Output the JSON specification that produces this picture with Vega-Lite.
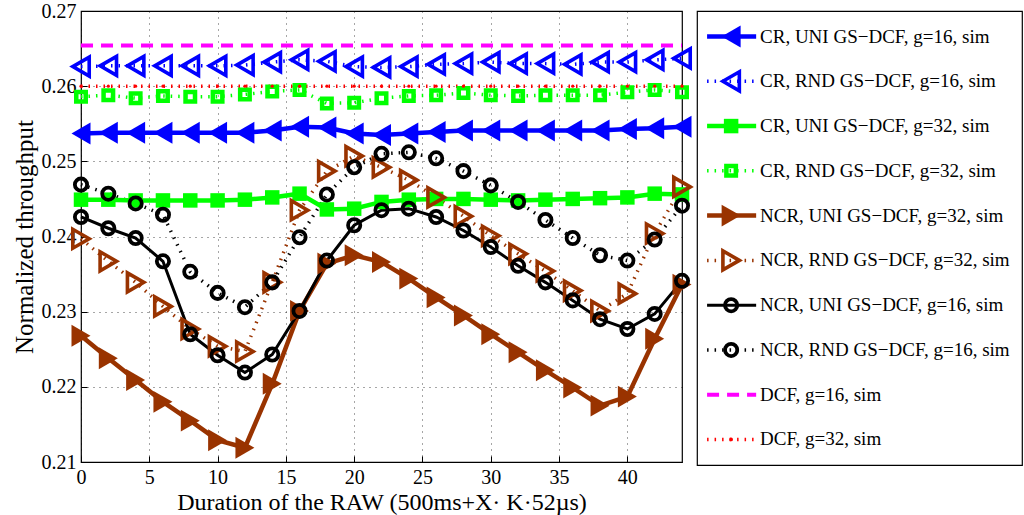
{
  "$schema": "https://vega.github.io/schema/vega-lite/v6.json",
  "padding": {"left": 11, "top": 0, "right": 0, "bottom": 0},
  "bounds": "flush",
  "spacing": 15,
  "config": {
    "font": "Liberation Serif",
    "view": {"stroke": "#000000", "strokeWidth": 1.2},
    "axis": {"labelFont": "Liberation Serif", "titleFont": "Liberation Serif", "labelColor": "#000", "titleColor": "#000", "titleFontWeight": "normal"}
  },
  "datasets": {
    "wide": [
      {"x": 0, "CR, UNI GS−DCF, g=16, sim": 0.2537, "CR, RND GS−DCF, g=16, sim": 0.2626, "CR, UNI GS−DCF, g=32, sim": 0.2449, "CR, RND GS−DCF, g=32, sim": 0.2586, "NCR, UNI GS−DCF, g=32, sim": 0.2268, "NCR, RND GS−DCF, g=32, sim": 0.2397, "NCR, UNI GS−DCF, g=16, sim": 0.2426, "NCR, RND GS−DCF, g=16, sim": 0.2469, "DCF, g=16, sim": 0.2654, "DCF, g=32, sim": 0.2600},
      {"x": 2, "CR, UNI GS−DCF, g=16, sim": 0.2538, "CR, RND GS−DCF, g=16, sim": 0.2627, "CR, UNI GS−DCF, g=32, sim": 0.2449, "CR, RND GS−DCF, g=32, sim": 0.2588, "NCR, UNI GS−DCF, g=32, sim": 0.2238, "NCR, RND GS−DCF, g=32, sim": 0.2367, "NCR, UNI GS−DCF, g=16, sim": 0.2411, "NCR, RND GS−DCF, g=16, sim": 0.2457, "DCF, g=16, sim": 0.2654, "DCF, g=32, sim": 0.2600},
      {"x": 4, "CR, UNI GS−DCF, g=16, sim": 0.2538, "CR, RND GS−DCF, g=16, sim": 0.2627, "CR, UNI GS−DCF, g=32, sim": 0.2448, "CR, RND GS−DCF, g=32, sim": 0.2584, "NCR, UNI GS−DCF, g=32, sim": 0.2209, "NCR, RND GS−DCF, g=32, sim": 0.2339, "NCR, UNI GS−DCF, g=16, sim": 0.2398, "NCR, RND GS−DCF, g=16, sim": 0.2444, "DCF, g=16, sim": 0.2654, "DCF, g=32, sim": 0.2600},
      {"x": 6, "CR, UNI GS−DCF, g=16, sim": 0.2538, "CR, RND GS−DCF, g=16, sim": 0.2627, "CR, UNI GS−DCF, g=32, sim": 0.2448, "CR, RND GS−DCF, g=32, sim": 0.2587, "NCR, UNI GS−DCF, g=32, sim": 0.2180, "NCR, RND GS−DCF, g=32, sim": 0.2307, "NCR, UNI GS−DCF, g=16, sim": 0.2367, "NCR, RND GS−DCF, g=16, sim": 0.2429, "DCF, g=16, sim": 0.2654, "DCF, g=32, sim": 0.2600},
      {"x": 8, "CR, UNI GS−DCF, g=16, sim": 0.2538, "CR, RND GS−DCF, g=16, sim": 0.2627, "CR, UNI GS−DCF, g=32, sim": 0.2448, "CR, RND GS−DCF, g=32, sim": 0.2586, "NCR, UNI GS−DCF, g=32, sim": 0.2155, "NCR, RND GS−DCF, g=32, sim": 0.2277, "NCR, UNI GS−DCF, g=16, sim": 0.2270, "NCR, RND GS−DCF, g=16, sim": 0.2353, "DCF, g=16, sim": 0.2654, "DCF, g=32, sim": 0.2600},
      {"x": 10, "CR, UNI GS−DCF, g=16, sim": 0.2538, "CR, RND GS−DCF, g=16, sim": 0.2627, "CR, UNI GS−DCF, g=32, sim": 0.2448, "CR, RND GS−DCF, g=32, sim": 0.2586, "NCR, UNI GS−DCF, g=32, sim": 0.2129, "NCR, RND GS−DCF, g=32, sim": 0.2254, "NCR, UNI GS−DCF, g=16, sim": 0.2242, "NCR, RND GS−DCF, g=16, sim": 0.2325, "DCF, g=16, sim": 0.2654, "DCF, g=32, sim": 0.2600},
      {"x": 12, "CR, UNI GS−DCF, g=16, sim": 0.2538, "CR, RND GS−DCF, g=16, sim": 0.2628, "CR, UNI GS−DCF, g=32, sim": 0.2449, "CR, RND GS−DCF, g=32, sim": 0.2589, "NCR, UNI GS−DCF, g=32, sim": 0.2119, "NCR, RND GS−DCF, g=32, sim": 0.2247, "NCR, UNI GS−DCF, g=16, sim": 0.2219, "NCR, RND GS−DCF, g=16, sim": 0.2306, "DCF, g=16, sim": 0.2654, "DCF, g=32, sim": 0.2600},
      {"x": 14, "CR, UNI GS−DCF, g=16, sim": 0.2541, "CR, RND GS−DCF, g=16, sim": 0.2632, "CR, UNI GS−DCF, g=32, sim": 0.2452, "CR, RND GS−DCF, g=32, sim": 0.2593, "NCR, UNI GS−DCF, g=32, sim": 0.2204, "NCR, RND GS−DCF, g=32, sim": 0.2339, "NCR, UNI GS−DCF, g=16, sim": 0.2243, "NCR, RND GS−DCF, g=16, sim": 0.2339, "DCF, g=16, sim": 0.2654, "DCF, g=32, sim": 0.2600},
      {"x": 16, "CR, UNI GS−DCF, g=16, sim": 0.2546, "CR, RND GS−DCF, g=16, sim": 0.2635, "CR, UNI GS−DCF, g=32, sim": 0.2457, "CR, RND GS−DCF, g=32, sim": 0.2595, "NCR, UNI GS−DCF, g=32, sim": 0.2301, "NCR, RND GS−DCF, g=32, sim": 0.2435, "NCR, UNI GS−DCF, g=16, sim": 0.2301, "NCR, RND GS−DCF, g=16, sim": 0.2399, "DCF, g=16, sim": 0.2654, "DCF, g=32, sim": 0.2600},
      {"x": 18, "CR, UNI GS−DCF, g=16, sim": 0.2545, "CR, RND GS−DCF, g=16, sim": 0.2633, "CR, UNI GS−DCF, g=32, sim": 0.2436, "CR, RND GS−DCF, g=32, sim": 0.2577, "NCR, UNI GS−DCF, g=32, sim": 0.2364, "NCR, RND GS−DCF, g=32, sim": 0.2487, "NCR, UNI GS−DCF, g=16, sim": 0.2368, "NCR, RND GS−DCF, g=16, sim": 0.2456, "DCF, g=16, sim": 0.2654, "DCF, g=32, sim": 0.2600},
      {"x": 20, "CR, UNI GS−DCF, g=16, sim": 0.2537, "CR, RND GS−DCF, g=16, sim": 0.2626, "CR, UNI GS−DCF, g=32, sim": 0.2437, "CR, RND GS−DCF, g=32, sim": 0.2578, "NCR, UNI GS−DCF, g=32, sim": 0.2375, "NCR, RND GS−DCF, g=32, sim": 0.2507, "NCR, UNI GS−DCF, g=16, sim": 0.2415, "NCR, RND GS−DCF, g=16, sim": 0.2492, "DCF, g=16, sim": 0.2654, "DCF, g=32, sim": 0.2600},
      {"x": 22, "CR, UNI GS−DCF, g=16, sim": 0.2535, "CR, RND GS−DCF, g=16, sim": 0.2625, "CR, UNI GS−DCF, g=32, sim": 0.2446, "CR, RND GS−DCF, g=32, sim": 0.2584, "NCR, UNI GS−DCF, g=32, sim": 0.2366, "NCR, RND GS−DCF, g=32, sim": 0.2492, "NCR, UNI GS−DCF, g=16, sim": 0.2435, "NCR, RND GS−DCF, g=16, sim": 0.2510, "DCF, g=16, sim": 0.2654, "DCF, g=32, sim": 0.2600},
      {"x": 24, "CR, UNI GS−DCF, g=16, sim": 0.2537, "CR, RND GS−DCF, g=16, sim": 0.2626, "CR, UNI GS−DCF, g=32, sim": 0.2449, "CR, RND GS−DCF, g=32, sim": 0.2587, "NCR, UNI GS−DCF, g=32, sim": 0.2344, "NCR, RND GS−DCF, g=32, sim": 0.2475, "NCR, UNI GS−DCF, g=16, sim": 0.2437, "NCR, RND GS−DCF, g=16, sim": 0.2512, "DCF, g=16, sim": 0.2654, "DCF, g=32, sim": 0.2600},
      {"x": 26, "CR, UNI GS−DCF, g=16, sim": 0.2539, "CR, RND GS−DCF, g=16, sim": 0.2629, "CR, UNI GS−DCF, g=32, sim": 0.2450, "CR, RND GS−DCF, g=32, sim": 0.2588, "NCR, UNI GS−DCF, g=32, sim": 0.2319, "NCR, RND GS−DCF, g=32, sim": 0.2452, "NCR, UNI GS−DCF, g=16, sim": 0.2426, "NCR, RND GS−DCF, g=16, sim": 0.2504, "DCF, g=16, sim": 0.2654, "DCF, g=32, sim": 0.2600},
      {"x": 28, "CR, UNI GS−DCF, g=16, sim": 0.2541, "CR, RND GS−DCF, g=16, sim": 0.2630, "CR, UNI GS−DCF, g=32, sim": 0.2450, "CR, RND GS−DCF, g=32, sim": 0.2591, "NCR, UNI GS−DCF, g=32, sim": 0.2295, "NCR, RND GS−DCF, g=32, sim": 0.2427, "NCR, UNI GS−DCF, g=16, sim": 0.2408, "NCR, RND GS−DCF, g=16, sim": 0.2487, "DCF, g=16, sim": 0.2654, "DCF, g=32, sim": 0.2600},
      {"x": 30, "CR, UNI GS−DCF, g=16, sim": 0.2541, "CR, RND GS−DCF, g=16, sim": 0.2632, "CR, UNI GS−DCF, g=32, sim": 0.2449, "CR, RND GS−DCF, g=32, sim": 0.2588, "NCR, UNI GS−DCF, g=32, sim": 0.2270, "NCR, RND GS−DCF, g=32, sim": 0.2401, "NCR, UNI GS−DCF, g=16, sim": 0.2386, "NCR, RND GS−DCF, g=16, sim": 0.2468, "DCF, g=16, sim": 0.2654, "DCF, g=32, sim": 0.2600},
      {"x": 32, "CR, UNI GS−DCF, g=16, sim": 0.2541, "CR, RND GS−DCF, g=16, sim": 0.2630, "CR, UNI GS−DCF, g=32, sim": 0.2448, "CR, RND GS−DCF, g=32, sim": 0.2587, "NCR, UNI GS−DCF, g=32, sim": 0.2246, "NCR, RND GS−DCF, g=32, sim": 0.2377, "NCR, UNI GS−DCF, g=16, sim": 0.2361, "NCR, RND GS−DCF, g=16, sim": 0.2446, "DCF, g=16, sim": 0.2654, "DCF, g=32, sim": 0.2600},
      {"x": 34, "CR, UNI GS−DCF, g=16, sim": 0.2541, "CR, RND GS−DCF, g=16, sim": 0.2630, "CR, UNI GS−DCF, g=32, sim": 0.2449, "CR, RND GS−DCF, g=32, sim": 0.2588, "NCR, UNI GS−DCF, g=32, sim": 0.2222, "NCR, RND GS−DCF, g=32, sim": 0.2354, "NCR, UNI GS−DCF, g=16, sim": 0.2339, "NCR, RND GS−DCF, g=16, sim": 0.2422, "DCF, g=16, sim": 0.2654, "DCF, g=32, sim": 0.2600},
      {"x": 36, "CR, UNI GS−DCF, g=16, sim": 0.2541, "CR, RND GS−DCF, g=16, sim": 0.2629, "CR, UNI GS−DCF, g=32, sim": 0.2450, "CR, RND GS−DCF, g=32, sim": 0.2588, "NCR, UNI GS−DCF, g=32, sim": 0.2199, "NCR, RND GS−DCF, g=32, sim": 0.2328, "NCR, UNI GS−DCF, g=16, sim": 0.2315, "NCR, RND GS−DCF, g=16, sim": 0.2398, "DCF, g=16, sim": 0.2654, "DCF, g=32, sim": 0.2600},
      {"x": 38, "CR, UNI GS−DCF, g=16, sim": 0.2541, "CR, RND GS−DCF, g=16, sim": 0.2632, "CR, UNI GS−DCF, g=32, sim": 0.2451, "CR, RND GS−DCF, g=32, sim": 0.2588, "NCR, UNI GS−DCF, g=32, sim": 0.2175, "NCR, RND GS−DCF, g=32, sim": 0.2301, "NCR, UNI GS−DCF, g=16, sim": 0.2290, "NCR, RND GS−DCF, g=16, sim": 0.2375, "DCF, g=16, sim": 0.2654, "DCF, g=32, sim": 0.2600},
      {"x": 40, "CR, UNI GS−DCF, g=16, sim": 0.2543, "CR, RND GS−DCF, g=16, sim": 0.2632, "CR, UNI GS−DCF, g=32, sim": 0.2452, "CR, RND GS−DCF, g=32, sim": 0.2592, "NCR, UNI GS−DCF, g=32, sim": 0.2187, "NCR, RND GS−DCF, g=32, sim": 0.2324, "NCR, UNI GS−DCF, g=16, sim": 0.2277, "NCR, RND GS−DCF, g=16, sim": 0.2368, "DCF, g=16, sim": 0.2654, "DCF, g=32, sim": 0.2600},
      {"x": 42, "CR, UNI GS−DCF, g=16, sim": 0.2544, "CR, RND GS−DCF, g=16, sim": 0.2635, "CR, UNI GS−DCF, g=32, sim": 0.2457, "CR, RND GS−DCF, g=32, sim": 0.2595, "NCR, UNI GS−DCF, g=32, sim": 0.2264, "NCR, RND GS−DCF, g=32, sim": 0.2404, "NCR, UNI GS−DCF, g=16, sim": 0.2297, "NCR, RND GS−DCF, g=16, sim": 0.2396, "DCF, g=16, sim": 0.2654, "DCF, g=32, sim": 0.2600},
      {"x": 44, "CR, UNI GS−DCF, g=16, sim": 0.2546, "CR, RND GS−DCF, g=16, sim": 0.2637, "CR, UNI GS−DCF, g=32, sim": 0.2456, "CR, RND GS−DCF, g=32, sim": 0.2592, "NCR, UNI GS−DCF, g=32, sim": 0.2336, "NCR, RND GS−DCF, g=32, sim": 0.2466, "NCR, UNI GS−DCF, g=16, sim": 0.2341, "NCR, RND GS−DCF, g=16, sim": 0.2441, "DCF, g=16, sim": 0.2654, "DCF, g=32, sim": 0.2600}
    ],
    "legend": [
      {"series": "CR, UNI GS−DCF, g=16, sim"},
      {"series": "CR, RND GS−DCF, g=16, sim"},
      {"series": "CR, UNI GS−DCF, g=32, sim"},
      {"series": "CR, RND GS−DCF, g=32, sim"},
      {"series": "NCR, UNI GS−DCF, g=32, sim"},
      {"series": "NCR, RND GS−DCF, g=32, sim"},
      {"series": "NCR, UNI GS−DCF, g=16, sim"},
      {"series": "NCR, RND GS−DCF, g=16, sim"},
      {"series": "DCF, g=16, sim"},
      {"series": "DCF, g=32, sim"}
    ]
  },
  "hconcat": [
    {
      "width": 601,
      "height": 451,
      "data": {"name": "wide"},
      "transform": [
        {"fold": ["CR, UNI GS−DCF, g=16, sim", "CR, RND GS−DCF, g=16, sim", "CR, UNI GS−DCF, g=32, sim", "CR, RND GS−DCF, g=32, sim", "NCR, UNI GS−DCF, g=32, sim", "NCR, RND GS−DCF, g=32, sim", "NCR, UNI GS−DCF, g=16, sim", "NCR, RND GS−DCF, g=16, sim", "DCF, g=16, sim", "DCF, g=32, sim"], "as": ["series", "y"]}
      ],
      "encoding": {
        "x": {"field": "x", "type": "quantitative",
          "scale": {"domain": [0, 44], "nice": false, "zero": false},
          "axis": {"values": [0, 5, 10, 15, 20, 25, 30, 35, 40], "title": "Duration of the RAW (500ms+X· K·52µs)", "grid": true, "gridDash": [1, 5], "gridColor": "#000000", "gridOpacity": 0.7, "domain": false, "ticks": true, "tickSize": -6, "tickColor": "#000000", "tickWidth": 1, "labelPadding": 11, "labelFontSize": 20, "titleFontSize": 24, "titlePadding": 3, "labelFlush": false}},
        "y": {"field": "y", "type": "quantitative",
          "scale": {"domain": [0.21, 0.27], "nice": false, "zero": false},
          "axis": {"values": [0.21, 0.22, 0.23, 0.24, 0.25, 0.26, 0.27], "format": ".2f", "title": "Normalized throughput", "grid": true, "gridDash": [1, 5], "gridColor": "#000000", "gridOpacity": 0.7, "domain": false, "ticks": true, "tickSize": -6, "tickColor": "#000000", "tickWidth": 1, "labelPadding": 11, "labelFontSize": 20, "titleFontSize": 25, "titlePadding": 4, "labelFlush": false}},
        "color": {"field": "series", "type": "nominal", "legend": null,
          "scale": {"domain": ["CR, UNI GS−DCF, g=16, sim", "CR, RND GS−DCF, g=16, sim", "CR, UNI GS−DCF, g=32, sim", "CR, RND GS−DCF, g=32, sim", "NCR, UNI GS−DCF, g=32, sim", "NCR, RND GS−DCF, g=32, sim", "NCR, UNI GS−DCF, g=16, sim", "NCR, RND GS−DCF, g=16, sim", "DCF, g=16, sim", "DCF, g=32, sim"],
                    "range": ["#0000ff", "#0000ff", "#00ff00", "#00ff00", "#993300", "#993300", "#000000", "#000000", "#ff00ff", "#ff0000"]}}
      },
      "layer": [
        {"transform": [{"filter": {"field": "series", "oneOf": ["CR, RND GS−DCF, g=16, sim", "CR, RND GS−DCF, g=32, sim", "NCR, RND GS−DCF, g=32, sim", "NCR, RND GS−DCF, g=16, sim"]}}],
         "mark": {"type": "line", "strokeWidth": 3.5, "strokeDash": [1.5, 6]}},
        {"transform": [{"filter": {"field": "series", "oneOf": ["CR, UNI GS−DCF, g=16, sim", "CR, UNI GS−DCF, g=32, sim", "NCR, UNI GS−DCF, g=32, sim"]}}],
         "mark": {"type": "line", "strokeWidth": 4.5}},
        {"transform": [{"filter": {"field": "series", "equal": "NCR, UNI GS−DCF, g=16, sim"}}],
         "mark": {"type": "line", "strokeWidth": 3}},
        {"transform": [{"filter": {"field": "series", "equal": "DCF, g=16, sim"}}],
         "mark": {"type": "line", "strokeWidth": 4, "strokeDash": [12, 8]}},
        {"transform": [{"filter": {"field": "series", "equal": "DCF, g=32, sim"}}],
         "mark": {"type": "line", "strokeWidth": 3.5, "strokeDash": [1.5, 6]}},
        {"transform": [{"filter": {"field": "series", "oneOf": ["CR, UNI GS−DCF, g=16, sim", "NCR, UNI GS−DCF, g=32, sim"]}}],
         "mark": {"type": "point", "filled": true, "size": 480, "opacity": 1},
         "encoding": {"shape": {"field": "series", "type": "nominal", "legend": null, "scale": {"domain": ["CR, UNI GS−DCF, g=16, sim", "NCR, UNI GS−DCF, g=32, sim"], "range": ["triangle-left", "triangle-right"]}}}},
        {"transform": [{"filter": {"field": "series", "equal": "CR, UNI GS−DCF, g=32, sim"}}],
         "mark": {"type": "point", "filled": true, "shape": "square", "size": 210, "opacity": 1}},
        {"transform": [{"filter": {"field": "series", "oneOf": ["CR, RND GS−DCF, g=16, sim", "NCR, RND GS−DCF, g=32, sim"]}}],
         "mark": {"type": "point", "filled": false, "size": 360, "strokeWidth": 3.6, "opacity": 1},
         "encoding": {"shape": {"field": "series", "type": "nominal", "legend": null, "scale": {"domain": ["CR, RND GS−DCF, g=16, sim", "NCR, RND GS−DCF, g=32, sim"], "range": ["triangle-left", "triangle-right"]}}}},
        {"transform": [{"filter": {"field": "series", "equal": "CR, RND GS−DCF, g=32, sim"}}],
         "mark": {"type": "point", "filled": false, "shape": "square", "size": 90, "strokeWidth": 4.5, "opacity": 1}},
        {"transform": [{"filter": {"field": "series", "oneOf": ["NCR, UNI GS−DCF, g=16, sim", "NCR, RND GS−DCF, g=16, sim"]}}],
         "mark": {"type": "point", "filled": false, "shape": "circle", "size": 150, "strokeWidth": 3.8, "opacity": 1}},
        {"transform": [{"filter": {"field": "series", "equal": "DCF, g=32, sim"}}],
         "mark": {"type": "point", "filled": true, "shape": "circle", "size": 10, "opacity": 1}}
      ]
    },
    {
      "width": 325,
      "height": 454,
      "data": {"name": "legend"},
      "encoding": {
        "y": {"field": "series", "type": "nominal", "axis": null,
          "scale": {"type": "point", "padding": 0.57, "domain": ["CR, UNI GS−DCF, g=16, sim", "CR, RND GS−DCF, g=16, sim", "CR, UNI GS−DCF, g=32, sim", "CR, RND GS−DCF, g=32, sim", "NCR, UNI GS−DCF, g=32, sim", "NCR, RND GS−DCF, g=32, sim", "NCR, UNI GS−DCF, g=16, sim", "NCR, RND GS−DCF, g=16, sim", "DCF, g=16, sim", "DCF, g=32, sim"]}},
        "color": {"field": "series", "type": "nominal", "legend": null,
          "scale": {"domain": ["CR, UNI GS−DCF, g=16, sim", "CR, RND GS−DCF, g=16, sim", "CR, UNI GS−DCF, g=32, sim", "CR, RND GS−DCF, g=32, sim", "NCR, UNI GS−DCF, g=32, sim", "NCR, RND GS−DCF, g=32, sim", "NCR, UNI GS−DCF, g=16, sim", "NCR, RND GS−DCF, g=16, sim", "DCF, g=16, sim", "DCF, g=32, sim"],
                    "range": ["#0000ff", "#0000ff", "#00ff00", "#00ff00", "#993300", "#993300", "#000000", "#000000", "#ff00ff", "#ff0000"]}}
      },
      "layer": [
        {"transform": [{"filter": {"field": "series", "oneOf": ["CR, RND GS−DCF, g=16, sim", "CR, RND GS−DCF, g=32, sim", "NCR, RND GS−DCF, g=32, sim", "NCR, RND GS−DCF, g=16, sim", "DCF, g=32, sim"]}}],
         "mark": {"type": "rule", "strokeWidth": 3.5, "strokeDash": [1.5, 6]},
         "encoding": {"x": {"datum": 0.031, "type": "quantitative", "scale": {"domain": [0, 1], "nice": false, "zero": false}, "axis": null}, "x2": {"datum": 0.182}}},
        {"transform": [{"filter": {"field": "series", "oneOf": ["CR, UNI GS−DCF, g=16, sim", "CR, UNI GS−DCF, g=32, sim", "NCR, UNI GS−DCF, g=32, sim"]}}],
         "mark": {"type": "rule", "strokeWidth": 4.5},
         "encoding": {"x": {"datum": 0.031, "type": "quantitative", "scale": {"domain": [0, 1], "nice": false, "zero": false}, "axis": null}, "x2": {"datum": 0.182}}},
        {"transform": [{"filter": {"field": "series", "equal": "NCR, UNI GS−DCF, g=16, sim"}}],
         "mark": {"type": "rule", "strokeWidth": 3},
         "encoding": {"x": {"datum": 0.031, "type": "quantitative", "scale": {"domain": [0, 1], "nice": false, "zero": false}, "axis": null}, "x2": {"datum": 0.182}}},
        {"transform": [{"filter": {"field": "series", "equal": "DCF, g=16, sim"}}],
         "mark": {"type": "rule", "strokeWidth": 4, "strokeDash": [12, 8]},
         "encoding": {"x": {"datum": 0.031, "type": "quantitative", "scale": {"domain": [0, 1], "nice": false, "zero": false}, "axis": null}, "x2": {"datum": 0.182}}},
        {"transform": [{"filter": {"field": "series", "oneOf": ["CR, UNI GS−DCF, g=16, sim", "NCR, UNI GS−DCF, g=32, sim"]}}],
         "mark": {"type": "point", "filled": true, "size": 480, "opacity": 1},
         "encoding": {"x": {"datum": 0.105, "type": "quantitative", "scale": {"domain": [0, 1], "nice": false, "zero": false}, "axis": null},
           "shape": {"field": "series", "type": "nominal", "legend": null, "scale": {"domain": ["CR, UNI GS−DCF, g=16, sim", "NCR, UNI GS−DCF, g=32, sim"], "range": ["triangle-left", "triangle-right"]}}}},
        {"transform": [{"filter": {"field": "series", "equal": "CR, UNI GS−DCF, g=32, sim"}}],
         "mark": {"type": "point", "filled": true, "shape": "square", "size": 210, "opacity": 1},
         "encoding": {"x": {"datum": 0.105, "type": "quantitative", "scale": {"domain": [0, 1], "nice": false, "zero": false}, "axis": null}}},
        {"transform": [{"filter": {"field": "series", "oneOf": ["CR, RND GS−DCF, g=16, sim", "NCR, RND GS−DCF, g=32, sim"]}}],
         "mark": {"type": "point", "filled": false, "size": 360, "strokeWidth": 3.6, "opacity": 1},
         "encoding": {"x": {"datum": 0.105, "type": "quantitative", "scale": {"domain": [0, 1], "nice": false, "zero": false}, "axis": null},
           "shape": {"field": "series", "type": "nominal", "legend": null, "scale": {"domain": ["CR, RND GS−DCF, g=16, sim", "NCR, RND GS−DCF, g=32, sim"], "range": ["triangle-left", "triangle-right"]}}}},
        {"transform": [{"filter": {"field": "series", "equal": "CR, RND GS−DCF, g=32, sim"}}],
         "mark": {"type": "point", "filled": false, "shape": "square", "size": 90, "strokeWidth": 4.5, "opacity": 1},
         "encoding": {"x": {"datum": 0.105, "type": "quantitative", "scale": {"domain": [0, 1], "nice": false, "zero": false}, "axis": null}}},
        {"transform": [{"filter": {"field": "series", "oneOf": ["NCR, UNI GS−DCF, g=16, sim", "NCR, RND GS−DCF, g=16, sim"]}}],
         "mark": {"type": "point", "filled": false, "shape": "circle", "size": 150, "strokeWidth": 3.8, "opacity": 1},
         "encoding": {"x": {"datum": 0.105, "type": "quantitative", "scale": {"domain": [0, 1], "nice": false, "zero": false}, "axis": null}}},
        {"transform": [{"filter": {"field": "series", "equal": "DCF, g=32, sim"}}],
         "mark": {"type": "point", "filled": true, "shape": "circle", "size": 14, "opacity": 1},
         "encoding": {"x": {"datum": 0.105, "type": "quantitative", "scale": {"domain": [0, 1], "nice": false, "zero": false}, "axis": null}}},
        {"mark": {"type": "text", "align": "left", "baseline": "middle", "fontSize": 19, "font": "Liberation Serif", "color": "#000000"},
         "encoding": {"x": {"datum": 0.194, "type": "quantitative", "scale": {"domain": [0, 1], "nice": false, "zero": false}, "axis": null},
           "text": {"field": "series"}, "color": {"value": "#000000"}}}
      ]
    }
  ]
}
